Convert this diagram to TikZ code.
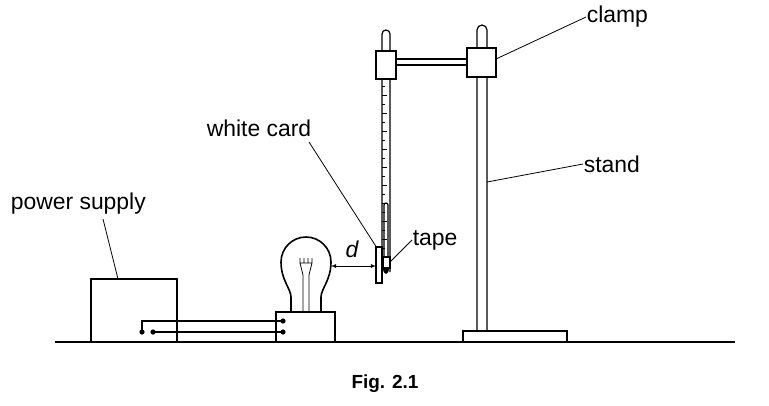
\documentclass[tikz,border=0pt]{standalone}
\usepackage{fontspec}
\setmainfont{Liberation Sans}
\usetikzlibrary{positioning}
\begin{document}
\begin{tikzpicture}[x=1bp,y=-1bp,line width=1.6bp,
    lbl/.style={inner sep=0pt,font=\fontsize{23}{27}\selectfont},
    lead/.style={line width=0.8bp}]
    \useasboundingbox (0,0) rectangle (769,405);
    % bench
    \draw (55,342) -- (735,342);
    % power supply and lamp
    \draw (91,279) rectangle (177,342);
    \draw (276,312) rectangle (335,342);
    \fill (142,332) circle (2.6) (153,332) circle (2.6) (283,321) circle (2.6) (283,332) circle (2.6);
    \draw (142,332) -- (142,321) -- (283,321);
    \draw (153,332) -- (283,332);
    \draw (291,312) -- (291,297) .. controls (291,289) and (281,280) .. (281,262)
          arc (180:360:25) .. controls (331,280) and (321,289) .. (321,297) -- (321,312);
    \draw[line width=0.8bp] (303,312) -- (303,275) -- (300,263) (309,312) -- (309,275) -- (312,263)
          (300,263) -- (312,263) (300,263) -- (300,258) (304,263) -- (304,258) (308,263) -- (308,258) (312,263) -- (312,258);
    % stand
    \draw (463,331) rectangle (567,342);
    \draw[line width=1.2bp] (477,331) -- (477,30) arc (180:360:5) -- (487,331);
    \draw[line width=1.2bp] (396,59) -- (467,59) (396,65) -- (467,65);
    \draw[fill=white] (467,48) rectangle (496,77);
    % thermometer
    \draw[line width=1.2bp] (382,272) -- (382,34) arc (180:360:4) -- (390,272);
    \draw[line width=1.2bp] (384,268) -- (384,205) arc (180:360:2) -- (388,268);
    \fill (386,268) ellipse (3 and 6);
    \foreach \k in {0,...,19}{
      \pgfmathsetmacro\tl{385+2*mod(\k,2)}
      \draw[line width=0.5bp] (382,{86+9*\k}) -- (\tl,{86+9*\k});
    }
    \draw[fill=white] (376,51) rectangle (396,79);
    \draw[fill=white,line width=1.2bp] (376,247) rectangle (382,283);
    \draw[fill=white,line width=1.2bp] (383,257) rectangle (390,268);
    % distance d
    \coordinate (bulb) at (331,266);
    \coordinate (card) at (376,266);
    \draw[line width=0.8bp,<->,>=latex] (bulb) -- (card);
    \node[lbl] (d) at (352,249) {\itshape d};
    % labels
    \node[lbl,anchor=west] (clamp) at (586,17) {clamp};
    \coordinate (clampP) at (496,59);
    \draw[lead] (clamp.west) -- (clampP);
    \node[lbl,anchor=west] (stand) at (583,164) {stand};
    \coordinate (standP) at (487,182);
    \draw[lead] (stand.west) -- (standP);
    \node[lbl,anchor=west] (wcard) at (206,128) {white card};
    \coordinate (cardP) at (377,248);
    \draw[lead] (309,142) -- (cardP);
    \node[lbl,anchor=west] (tape) at (412,240) {tape};
    \coordinate (tapeP) at (390,262);
    \draw[lead] (tape.west) -- (tapeP);
    \node[lbl,anchor=west] (psu) at (10,204) {power supply};
    \coordinate (psuP) at (118,279);
    \draw[lead] (103,219) -- (psuP);
    \node[lbl,font=\fontsize{19}{22}\selectfont\bfseries] (fig) at (385,384) {Fig. 2.1};
\end{tikzpicture}
\end{document}
